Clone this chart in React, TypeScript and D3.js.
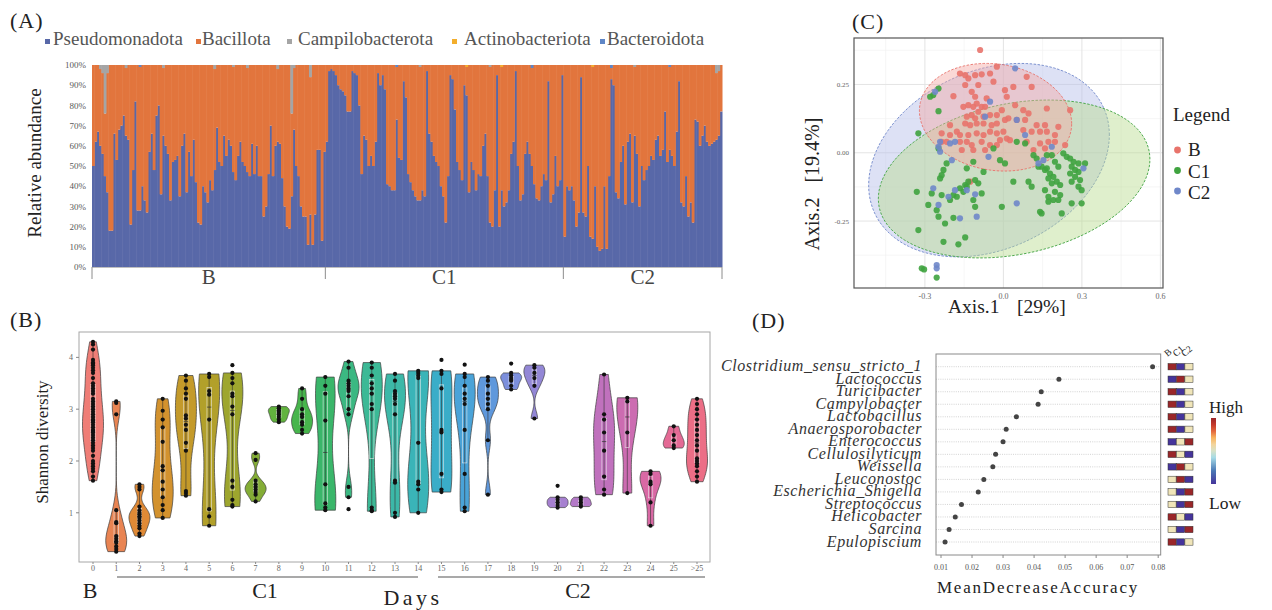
import React from 'react'
import * as d3 from 'd3'

const W = 1272
const H = 610
const serif = '"Liberation Serif", "Times New Roman", serif'

/* ---------- (A) relative abundance per sample ---------- */
const phyla = ['Pseudomonadota', 'Bacillota', 'Campilobacterota', 'Actinobacteriota', 'Bacteroidota']
const phylaColors = ['#5868a8', '#e2753d', '#a5a5a5', '#f3ae2c', '#5f86c6']
const groupsA = ['B', 'C1', 'C2']
// Pseudomonadota % per sample
const pseudoB = [
  50, 62, 67, 60, 56, 45, 37, 18, 18, 66, 53, 68, 70, 75, 65, 63, 21, 48, 82, 28,
  28, 40, 33, 27, 57, 66, 48, 75, 80, 36, 65, 60, 56, 33, 52, 53, 55, 35, 60, 66,
  37, 57, 45, 63, 42, 22, 21, 40, 37, 32, 43, 38, 48, 69, 52, 50, 65, 55, 63, 60,
  47, 43, 55, 62, 52, 50, 47, 45, 61, 46, 60, 45, 45, 25, 30, 46, 70, 45, 60, 62,
  61, 44, 30, 20, 19, 35, 68, 50, 45, 30, 25, 25, 11, 26, 11, 26, 58, 58, 13, 57,
]
const pseudoC1 = [
  62, 97, 98, 97, 95, 90, 88, 87, 85, 77, 77, 97, 96, 95, 80, 46, 65, 63, 50, 55,
  50, 62, 96, 90, 95, 88, 41, 40, 38, 38, 73, 54, 53, 92, 84, 46, 42, 38, 35, 33,
  33, 38, 35, 97, 66, 62, 55, 52, 50, 40, 35, 22, 45, 95, 93, 78, 52, 48, 43, 90,
  85, 37, 52, 48, 38, 46, 45, 60, 66, 45, 22, 20, 38, 95, 20, 38, 30, 32, 38, 56,
  62, 97, 50, 33, 36, 56, 62, 56, 50, 41, 34, 33, 40, 46, 43, 92, 32, 36, 55, 40,
  43, 95,
]
const pseudoC2 = [
  15, 40, 38, 40, 33, 20, 27, 94, 27, 25, 50, 15, 14, 40, 10, 8, 9, 40, 9, 45,
  93, 90, 37, 34, 52, 60, 31, 62, 66, 32, 65, 56, 30, 50, 43, 48, 50, 55, 53, 63,
  65, 55, 58, 77, 52, 58, 55, 50, 67, 92, 32, 30, 45, 25, 32, 22, 73, 72, 60, 65,
  70, 62, 60, 61, 62, 63, 65, 77,
]
// minor phyla: [group, sample index, %]
const campiSpikes = [
  ['B', 3, 2], ['B', 4, 4], ['B', 5, 24], ['B', 6, 4], ['B', 14, 1.5], ['B', 30, 1.5],
  ['B', 52, 2], ['B', 60, 1], ['B', 66, 1.5], ['B', 79, 2], ['B', 86, 1.5], ['B', 85, 24],
  ['B', 93, 6], ['C1', 40, 1], ['C1', 70, 1], ['C2', 30, 1], ['C2', 65, 4], ['C2', 66, 3],
]
const actinoSpikes = [['C1', 60, 1], ['C1', 75, 1], ['C2', 12, 1]]
const bacteroSpikes = [['B', 20, 1], ['C1', 30, 1], ['C1', 88, 1.5], ['C2', 20, 1.5], ['C2', 45, 1]]

/* ---------- (B) Shannon diversity by day ---------- */
const days = ['0', '1', '2', '3', '4', '5', '6', '7', '8', '9', '10', '11', '12', '13', '14',
  '15', '16', '17', '18', '19', '20', '21', '22', '23', '24', '25', '>25']
const shannon = [
  [4.3, 4.25, 4.15, 3.95, 3.9, 3.88, 3.85, 3.8, 3.75, 3.7, 3.6, 3.5, 3.45, 3.4, 3.35, 3.3, 3.2, 3.15, 3.1, 3.05, 3.0, 2.95, 2.9, 2.85, 2.8, 2.78, 2.75, 2.7, 2.65, 2.6, 2.58, 2.55, 2.5, 2.45, 2.4, 2.35, 2.3, 2.25, 2.2, 2.1, 2.0, 1.95, 1.9, 1.85, 1.8, 1.7, 1.62],
  [3.15, 3.12, 2.9, 1.05, 0.82, 0.8, 0.55, 0.5, 0.45, 0.42, 0.35, 0.3, 0.25],
  [1.55, 1.5, 1.45, 1.12, 1.05, 1.0, 0.97, 0.93, 0.9, 0.85, 0.8, 0.75, 0.7, 0.6, 0.55],
  [3.2, 2.97, 2.8, 2.65, 2.37, 1.9, 1.82, 1.6, 1.45, 1.3, 1.15, 1.05, 0.9],
  [3.65, 3.55, 3.4, 3.3, 3.2, 2.88, 2.82, 2.7, 2.6, 2.35, 2.2, 1.42, 1.38, 1.33],
  [3.68, 3.62, 3.35, 3.28, 2.8, 1.07, 0.93, 0.75],
  [3.7, 3.6, 3.5, 3.3, 3.25, 3.05, 2.9, 1.62, 1.5, 1.25, 1.15, 1.12],
  [2.15, 2.02, 1.62, 1.55, 1.5, 1.45, 1.4, 1.35, 1.22],
  [3.05, 3.02, 2.98, 2.95, 2.9, 2.85, 2.8, 2.75],
  [3.4, 3.2, 3.0, 2.9, 2.85, 2.75, 2.7, 2.6, 2.53],
  [3.62, 3.45, 3.3, 2.78, 1.55, 1.18, 1.1, 1.05],
  [3.92, 3.8, 3.55, 3.5, 3.45, 3.4, 3.35, 3.25, 3.0, 2.9, 1.5, 1.3],
  [3.9, 3.8, 3.65, 3.5, 3.4, 3.3, 3.1, 3.0, 1.1, 1.05, 1.03],
  [3.68, 3.55, 3.35, 3.3, 3.25, 3.2, 3.1, 2.9, 1.62, 1.58, 1.0, 0.92],
  [3.74, 3.7, 3.65, 3.6, 2.35, 1.6, 1.55, 1.45, 1.0],
  [3.74, 3.68, 3.4, 2.6, 2.55, 1.75, 1.45, 1.4],
  [3.68, 3.62, 3.45, 3.3, 3.2, 3.1, 2.6, 1.75, 1.1, 1.03],
  [3.62, 3.55, 3.45, 3.3, 3.2, 3.1, 3.0, 2.4, 1.35],
  [3.7, 3.65, 3.6, 3.55, 3.45, 3.38],
  [3.85, 3.8, 3.7, 3.6, 3.45, 2.82],
  [1.3, 1.25, 1.2, 1.15, 1.1],
  [1.3, 1.25, 1.2, 1.15, 1.12],
  [3.67, 2.9, 2.8, 2.55, 2.2, 1.7, 1.45, 1.35],
  [3.22, 3.15, 2.55, 1.38],
  [1.8, 1.75, 1.6, 1.55, 1.2, 0.75],
  [2.67, 2.5, 2.4, 2.3, 2.25],
  [3.2, 3.1, 3.0, 2.9, 2.8, 2.7, 2.6, 2.5, 2.4, 2.3, 2.2, 2.05, 2.0, 1.95, 1.9, 1.8, 1.7, 1.6],
]
// points drawn outside the violins: [day, value]
const shannonOutliers = [['6', 3.85], ['11', 1.07], ['15', 3.95], ['16', 3.86], ['18', 3.88], ['20', 1.52]]
const yTicksB = [1, 2, 3, 4]
// hue palette of the violins, one per day
const violinColors = [
  '#ef7d76', '#e98452', '#e08a36', '#d3922e', '#c49a2a', '#b2a02a', '#9ea62e', '#84ad36', '#62b33e',
  '#47b54c', '#3ab66a', '#3bb882', '#3cb996', '#3cb8a8', '#3ab4b8', '#3aadc8', '#4aa3d8', '#5f98dc',
  '#7c8fdc', '#9387d6', '#a680d0', '#b479c8', '#c071bd', '#cc6cb1', '#d968a4', '#e46a95', '#ec6e86',
]

/* ---------- (C) PCoA ---------- */
const groupsC = ['B', 'C1', 'C2']
const groupColors = ['#e8736b', '#3fa33f', '#6f87c9']
const ellipseFill = ['#f4a9a3', '#b9dc8f', '#b4bde8']
const pcoaB = [
  [-0.089, 0.376], [-0.166, 0.29], [-0.146, 0.284], [-0.134, 0.272], [-0.108, 0.284], [-0.083, 0.287], [-0.051, 0.29], [-0.025, 0.315], [-0.146, 0.248], [-0.096, 0.248],
  [-0.121, 0.223], [-0.108, 0.205], [-0.064, 0.199], [-0.038, 0.26], [0.006, 0.229], [0.013, 0.205], [-0.191, 0.207], [-0.153, 0.168], [-0.134, 0.174], [-0.115, 0.168],
  [-0.102, 0.18], [-0.083, 0.168], [-0.07, 0.168], [-0.096, 0.15], [-0.121, 0.138], [-0.14, 0.132], [-0.108, 0.126], [-0.076, 0.132], [-0.051, 0.138], [-0.025, 0.138],
  [-0.006, 0.156], [0.006, 0.12], [-0.146, 0.107], [-0.127, 0.101], [-0.102, 0.107], [-0.076, 0.107], [-0.045, 0.101], [-0.025, 0.107], [-0.204, 0.101], [-0.236, 0.071],
  [-0.204, 0.065], [-0.178, 0.077], [-0.166, 0.065], [-0.134, 0.065], [-0.102, 0.071], [-0.076, 0.065], [-0.051, 0.077], [-0.025, 0.071], [0, 0.077], [0.013, 0.052],
  [-0.013, 0.046], [-0.236, 0.04], [-0.217, 0.04], [-0.166, 0.04], [-0.14, 0.04], [-0.121, 0.028], [-0.083, 0.04], [-0.051, 0.028], [-0.025, 0.028], [-0.159, 0.01],
  [-0.115, 0.01], [-0.07, 0.01], [-0.127, -0.106], [0.089, 0.278], [0.108, 0.241], [0.038, 0.241], [0.045, 0.174], [0.076, 0.156], [0.166, 0.162], [0.255, 0.156],
  [0.019, 0.126], [0.051, 0.12], [0.083, 0.12], [0.096, 0.144], [0.127, 0.101], [0.159, 0.101], [0.21, 0.095], [0.076, 0.083], [0.108, 0.077], [0.14, 0.077],
  [0.166, 0.077], [0.197, 0.065], [0.025, 0.046], [0.089, 0.04], [0.14, 0.034], [0.172, 0.04], [0.197, 0.04], [0.236, 0.028], [0.115, 0.01], [0.159, 0.016],
]
const pcoaC1 = [
  [-0.28, 0.205], [-0.268, 0.211], [-0.248, 0.235], [-0.248, 0.152], [-0.325, 0.071], [-0.248, 0.016], [-0.038, 0.016], [-0.115, -0.033], [-0.013, -0.027], [0.006, -0.039],
  [-0.217, -0.039], [-0.229, -0.063], [-0.242, -0.094], [-0.236, -0.082], [-0.14, -0.057], [-0.076, -0.07], [-0.108, -0.1], [-0.146, -0.118], [-0.166, -0.13], [-0.153, -0.143],
  [-0.14, -0.124], [-0.096, -0.112], [-0.083, -0.149], [-0.115, -0.173], [-0.108, -0.198], [-0.191, -0.155], [-0.204, -0.173], [-0.236, -0.155], [-0.274, -0.149], [-0.287, -0.191],
  [-0.255, -0.21], [-0.248, -0.234], [-0.191, -0.238], [-0.223, -0.259], [-0.331, -0.143], [-0.325, -0.283], [-0.229, -0.326], [-0.172, -0.335], [-0.146, -0.31], [-0.006, -0.198],
  [-0.312, -0.423], [-0.303, -0.427], [-0.255, -0.457], [-0.178, -0.161], [-0.134, -0.106],
  [0.051, 0.04], [0.083, 0.034], [0.038, -0.106], [0.096, -0.106], [0.108, -0.124], [0.115, -0.009], [0.127, -0.021], [0.146, -0.051], [0.159, -0.063], [0.166, -0.009],
  [0.185, -0.009], [0.197, -0.033], [0.21, -0.051], [0.229, -0.002], [0.242, -0.015], [0.255, -0.021], [0.268, -0.033], [0.287, -0.039], [0.312, -0.039], [0.261, -0.051],
  [0.274, -0.063], [0.287, -0.07], [0.255, -0.076], [0.274, -0.088], [0.293, -0.1], [0.261, -0.106], [0.287, -0.124], [0.299, -0.137], [0.166, -0.057], [0.178, -0.076],
  [0.191, -0.088], [0.172, -0.094], [0.204, -0.106], [0.185, -0.112], [0.217, -0.118], [0.159, -0.137], [0.197, -0.143], [0.217, -0.155], [0.172, -0.161], [0.191, -0.173],
  [0.172, -0.179], [0.21, -0.173], [0.14, -0.216], [0.146, -0.222], [0.223, -0.222], [0.261, -0.185], [0.299, -0.185], [0.134, -0.051],
]
const pcoaC2 = [
  [-0.261, 0.223], [-0.051, 0.187], [-0.07, 0.132], [-0.242, 0.04], [-0.248, 0.022], [-0.242, 0.004], [-0.204, 0.034], [-0.185, 0.04], [-0.057, -0.015], [-0.197, -0.027],
  [-0.268, -0.13], [-0.21, -0.161], [-0.185, -0.137], [-0.14, -0.137], [-0.108, -0.152], [-0.248, -0.191], [-0.166, -0.24], [-0.102, -0.234], [-0.255, -0.411], [-0.255, -0.423],
  [0.045, 0.309], [0.051, 0.12], [0.083, 0.065], [0.185, 0.022], [0.134, -0.039], [0.306, -0.057], [0.051, -0.185], [0.153, -0.027],
]
// confidence ellipses: [cx, cy, x-extent, y-extent, correlation]
const ellipses = [
  [-0.03, 0.13, 0.291, 0.197, -0.12],
  [0.041, -0.096, 0.519, 0.289, 0.25],
  [-0.055, -0.027, 0.46, 0.354, 0.26],
]
const xTicksC = [-0.3, 0, 0.3, 0.6]
const yTicksC = [-0.25, 0, 0.25]

/* ---------- (D) random forest importance ---------- */
const genera = ['Clostridium_sensu_stricto_1', 'Lactococcus', 'Turicibacter', 'Campylobacter', 'Lactobacillus',
  'Anaerosporobacter', 'Enterococcus', 'Cellulosilyticum', 'Weissella', 'Leuconostoc', 'Escherichia_Shigella',
  'Streptococcus', 'Helicobacter', 'Sarcina', 'Epulopiscium']
const mda = [0.0782, 0.048, 0.0423, 0.0413, 0.0343, 0.031, 0.030, 0.0276, 0.0267, 0.0238, 0.022, 0.0166, 0.0146, 0.0126, 0.0113]
const heatB = [1, 0, 1, 1, 1, 1, 0, 1, 0, 0.55, 0.55, 0.55, 1, 0.55, 1]
const heatC1 = [0, 1, 0, 0, 0, 0, 0.55, 0.55, 1, 1, 0, 0, 0.55, 0, 0]
const heatC2 = [0.55, 0.55, 0.55, 0.55, 0.55, 0.55, 1, 0, 0.55, 0, 1, 1, 0, 1, 0.55]
const xTicksD = [0.01, 0.02, 0.03, 0.04, 0.05, 0.06, 0.07, 0.08]

const heatColor = d3
  .scaleLinear<string>()
  .domain([0, 0.2, 0.4, 0.55, 0.7, 0.85, 1])
  .range(['#45349b', '#4a78b5', '#a6dbe6', '#f0e5b9', '#f8b35e', '#d9432d', '#9a2629'])

function PanelA() {
  const lists = [pseudoB, pseudoC1, pseudoC2]
  const samples: any[] = []
  lists.forEach((arr, g) => {
    const grp = groupsA[g]
    arr.forEach((p, i) => {
      const pick = (list: any[]) => {
        const hit = list.find((d) => d[0] === grp && d[1] === i)
        return hit ? hit[2] : 0
      }
      const campi = pick(campiSpikes)
      const actino = pick(actinoSpikes)
      const bactero = pick(bacteroSpikes)
      samples.push({
        id: `${grp}-${i}`,
        group: grp,
        Pseudomonadota: p,
        Bacillota: 100 - p - campi - actino - bactero,
        Campilobacterota: campi,
        Actinobacteriota: actino,
        Bacteroidota: bactero,
      })
    })
  })
  const x = d3.scaleBand().domain(samples.map((d) => d.id)).range([92, 722])
  const y = d3.scaleLinear().domain([0, 100]).range([267, 65])
  const series = d3.stack().keys(phyla)(samples)
  const bounds = groupsA.map((g) => x(samples.find((d) => d.group === g).id) as number)
  bounds.push(x.range()[1])
  const legendMarkX = [45, 196, 287, 452, 600]
  const legendTextX = [53, 202, 298, 464, 607]
  return (
    <g fontFamily={serif}>
      <text x={10} y={28} fontSize={22} letterSpacing={1} fill="#222">(A)</text>
      {phyla.map((p, i) => (
        <g key={p}>
          <rect x={legendMarkX[i]} y={39} width={5} height={5} fill={phylaColors[i]} />
          <text x={legendTextX[i]} y={45} fontSize={19} fill="#555">{p}</text>
        </g>
      ))}
      {series.map((s, k) => (
        <g key={s.key} fill={phylaColors[k]}>
          {s.map((d: any, i) =>
            d[1] - d[0] > 0 ? (
              <rect key={i} x={x(samples[i].id)} y={y(d[1])} width={x.bandwidth() + 0.5} height={y(d[0]) - y(d[1])} />
            ) : null,
          )}
        </g>
      ))}
      {d3.range(0, 101, 10).map((t) => (
        <text key={t} x={86} y={y(t) + 3.2} fontSize={9} textAnchor="end" fill="#595959">{`${t}%`}</text>
      ))}
      <text transform="translate(41,163) rotate(-90)" fontSize={19} textAnchor="middle" fill="#222">Relative abundance</text>
      <line x1={92} x2={722} y1={267.5} y2={267.5} stroke="#bfbfbf" />
      {bounds.map((b, i) => (
        <line key={i} x1={b} x2={b} y1={267} y2={279} stroke="#8c8c8c" />
      ))}
      {groupsA.map((g, i) => (
        <text key={g} x={(bounds[i] + bounds[i + 1]) / 2} y={284} fontSize={21} textAnchor="middle" fill="#444">{g}</text>
      ))}
    </g>
  )
}

const gauss = (u: number) => Math.exp(-0.5 * u * u) / Math.sqrt(2 * Math.PI)
function density(vals: number[]) {
  const s = vals.slice().sort(d3.ascending)
  const sd = d3.deviation(s) || 0
  const iqr = ((d3.quantile(s, 0.75) as number) - (d3.quantile(s, 0.25) as number)) / 1.34
  let bw = 0.9 * Math.min(sd, iqr > 0 ? iqr : sd) * Math.pow(s.length, -0.2)
  if (!(bw > 0)) bw = 0.05
  const lo = s[0]
  const hi = s[s.length - 1]
  return d3.range(0, 41).map((k) => {
    const v = lo + ((hi - lo) * k) / 40
    return { v, d: (d3.mean(s, (t) => gauss((v - t) / bw)) as number) / bw }
  })
}

function PanelB() {
  const x = d3.scalePoint().domain(days).range([93, 697])
  const y = d3.scaleLinear().domain([0.05, 4.49]).range([562, 332])
  const halfW = 10.5
  return (
    <g fontFamily={serif}>
      <text x={10} y={327} fontSize={22} letterSpacing={1} fill="#222">(B)</text>
      <rect x={79} y={332} width={631} height={230} fill="none" stroke="#a6a6a6" />
      {days.map((day, i) => {
        const vals = shannon[i]
        const cx = x(day) as number
        const dens = density(vals)
        const w = d3.scaleLinear().domain([0, d3.max(dens, (d) => d.d) as number]).range([0, halfW])
        const area = d3
          .area<any>()
          .y((d) => y(d.v))
          .x0((d) => cx - w(d.d))
          .x1((d) => cx + w(d.d))
          .curve(d3.curveCatmullRom)
        const s = vals.slice().sort(d3.ascending)
        const q1 = d3.quantile(s, 0.25) as number
        const med = d3.quantile(s, 0.5) as number
        const q3 = d3.quantile(s, 0.75) as number
        const lo = d3.min(s.filter((v) => v >= q1 - 1.5 * (q3 - q1))) as number
        const hi = d3.max(s.filter((v) => v <= q3 + 1.5 * (q3 - q1))) as number
        return (
          <g key={day}>
            <path d={area(dens) as string} fill={violinColors[i]} stroke="#3d3d3d" strokeWidth={0.7} />
            <line x1={cx} x2={cx} y1={y(lo)} y2={y(hi)} stroke="#333" strokeWidth={0.6} />
            <rect x={cx - 2.2} y={y(q3)} width={4.4} height={Math.max(0.5, y(q1) - y(q3))} fill="none" stroke="#eee" strokeWidth={0.7} opacity={0.8} />
            <line x1={cx - 2.2} x2={cx + 2.2} y1={y(med)} y2={y(med)} stroke="#333" strokeWidth={0.7} />
            {vals.map((v, k) => (
              <circle key={k} cx={cx} cy={y(v)} r={2.1} fill="#111" />
            ))}
          </g>
        )
      })}
      {shannonOutliers.map((o: any, k) => (
        <circle key={k} cx={x(o[0]) as number} cy={y(o[1])} r={2.1} fill="#111" />
      ))}
      {yTicksB.map((t) => (
        <g key={t}>
          <line x1={76} x2={79} y1={y(t)} y2={y(t)} stroke="#888" />
          <text x={73} y={y(t) + 3} fontSize={8} textAnchor="end" fill="#666">{t}</text>
        </g>
      ))}
      {days.map((d) => (
        <g key={d}>
          <line x1={x(d)} x2={x(d)} y1={562} y2={564} stroke="#888" />
          <text x={x(d)} y={571} fontSize={8} textAnchor="middle" fill="#666">{d}</text>
        </g>
      ))}
      <text transform="translate(48,442) rotate(-90)" fontSize={17} textAnchor="middle" fill="#222">Shannon diversity</text>
      <line x1={117} x2={418} y1={577} y2={577} stroke="#555" strokeWidth={1.2} />
      <line x1={438} x2={705} y1={577} y2={577} stroke="#555" strokeWidth={1.2} />
      <text x={90} y={598} fontSize={22} textAnchor="middle" fill="#222">B</text>
      <text x={265} y={598} fontSize={22} textAnchor="middle" fill="#222">C1</text>
      <text x={413} y={605} fontSize={22} textAnchor="middle" letterSpacing={3.5} fill="#222">Days</text>
      <text x={578} y={598} fontSize={22} textAnchor="middle" fill="#222">C2</text>
    </g>
  )
}

function PanelC() {
  const x = d3.scaleLinear().domain([-0.571, 0.61]).range([854, 1163])
  const y = d3.scaleLinear().domain([-0.495, 0.42]).range([288, 38])
  const pts = [pcoaB, pcoaC1, pcoaC2]
  const minorX = [-0.45, -0.15, 0.15, 0.45]
  const minorY = [-0.375, -0.125, 0.125, 0.375]
  const line = d3.line<number[]>().x((d) => x(d[0])).y((d) => y(d[1])).curve(d3.curveLinearClosed)
  const ellipsePath = (e: number[]) => {
    const [cx, cy, sx, sy, r] = e
    const pts2 = d3.range(0, 120).map((k) => {
      const t = (2 * Math.PI * k) / 120
      return [cx + sx * Math.cos(t), cy + sy * (r * Math.cos(t) + Math.sqrt(1 - r * r) * Math.sin(t))]
    })
    return line(pts2) as string
  }
  const drawOrder = [2, 1, 0]
  return (
    <g fontFamily={serif}>
      <text x={852} y={29} fontSize={22} letterSpacing={1} fill="#222">(C)</text>
      <rect x={854} y={38} width={309} height={250} fill="#fff" />
      {minorX.map((t) => (
        <line key={t} x1={x(t)} x2={x(t)} y1={38} y2={288} stroke="#f0f0f0" strokeWidth={0.6} />
      ))}
      {minorY.map((t) => (
        <line key={t} x1={854} x2={1163} y1={y(t)} y2={y(t)} stroke="#f0f0f0" strokeWidth={0.6} />
      ))}
      {xTicksC.map((t) => (
        <line key={t} x1={x(t)} x2={x(t)} y1={38} y2={288} stroke="#e4e4e4" strokeWidth={1} />
      ))}
      {yTicksC.map((t) => (
        <line key={t} x1={854} x2={1163} y1={y(t)} y2={y(t)} stroke="#e4e4e4" strokeWidth={1} />
      ))}
      {drawOrder.map((g) => (
        <path key={g} d={ellipsePath(ellipses[g])} fill={ellipseFill[g]} fillOpacity={0.45} stroke={groupColors[g]} strokeWidth={0.9} strokeDasharray="2.5,1.5" />
      ))}
      {[0, 1, 2].map((g) => (
        <g key={g} fill={groupColors[g]} fillOpacity={0.9}>
          {pts[g].map((p, k) => (
            <circle key={k} cx={x(p[0])} cy={y(p[1])} r={3.1} />
          ))}
        </g>
      ))}
      <rect x={854} y={38} width={309} height={250} fill="none" stroke="#555" strokeWidth={1.2} />
      {yTicksC.map((t) => (
        <text key={t} x={849} y={y(t) + 2.5} fontSize={7} textAnchor="end" fill="#666">{t.toFixed(2)}</text>
      ))}
      {xTicksC.map((t) => (
        <text key={t} x={x(t)} y={299} fontSize={8} textAnchor="middle" fill="#666">{t.toFixed(1)}</text>
      ))}
      <text x={948} y={313} fontSize={19.5} fill="#222">Axis.1</text>
      <text x={1017} y={313} fontSize={19.5} fill="#222">[29%]</text>
      <text transform="translate(819,184) rotate(-90)" fontSize={20} textAnchor="middle" fill="#222" style={{ whiteSpace: 'pre' }}>{'Axis.2   [19.4%]'}</text>
      <text x={1173} y={121} fontSize={19} fill="#222">Legend</text>
      {groupsC.map((g, i) => (
        <g key={g}>
          <circle cx={1177.5} cy={150 + i * 20.5} r={3.4} fill={groupColors[i]} />
          <text x={1188} y={156 + i * 21.5} fontSize={19} fill="#222">{g}</text>
        </g>
      ))}
    </g>
  )
}

function PanelD() {
  const x = d3.scaleLinear().domain([0.01, 0.08]).range([941, 1158.2])
  const y = d3.scalePoint().domain(genera).range([366.7, 542])
  const cols = d3.scaleBand().domain(groupsC).range([1168, 1193]).paddingInner(0.04)
  const heat = [heatB, heatC1, heatC2]
  const legY = d3.scaleLinear().domain([1, 0]).range([418, 484])
  return (
    <g fontFamily={serif}>
      <defs>
        <linearGradient id="heatGrad" x1="0" y1="0" x2="0" y2="1">
          {d3.range(0, 1.001, 0.1).map((t) => (
            <stop key={t} offset={`${t * 100}%`} stopColor={heatColor(1 - t)} />
          ))}
        </linearGradient>
      </defs>
      <text x={752} y={328} fontSize={22} letterSpacing={1} fill="#222">(D)</text>
      {genera.map((g) => (
        <line key={g} x1={936} x2={1160.7} y1={y(g)} y2={y(g)} stroke="#b5b5b5" strokeWidth={0.6} strokeDasharray="1,1.2" />
      ))}
      <rect x={936} y={354} width={224.7} height={201} fill="none" stroke="#8a8a8a" strokeWidth={1} />
      {genera.map((g, i) => (
        <circle key={g} cx={x(mda[i])} cy={y(g)} r={2.5} fill="#444" />
      ))}
      {genera.map((g) => (
        <text key={g} x={922} y={(y(g) as number) + 4.5} fontSize={16} fontStyle="italic" textAnchor="end" letterSpacing={0.6} fill="#333">{g}</text>
      ))}
      {xTicksD.map((t) => (
        <g key={t}>
          <line x1={x(t)} x2={x(t)} y1={555} y2={558} stroke="#888" />
          <text x={x(t)} y={570} fontSize={8} textAnchor="middle" fill="#555">{t.toFixed(2)}</text>
        </g>
      ))}
      <text x={1038} y={593} fontSize={17} textAnchor="middle" letterSpacing={1.8} fill="#222">MeanDecreaseAccuracy</text>
      {groupsC.map((c, j) => (
        <g key={c}>
          {genera.map((g, i) => (
            <rect key={g} x={cols(c)} y={(y(g) as number) - 3.2} width={cols.bandwidth()} height={6.4} fill={heatColor(heat[j][i])} stroke="#333" strokeWidth={0.5} />
          ))}
          <text transform={`translate(${(cols(c) as number) - 0.5},${357}) rotate(-40)`} fontSize={9.5} fill="#222">{c}</text>
        </g>
      ))}
      <rect x={1211} y={legY(1)} width={5} height={legY(0) - legY(1)} fill="url(#heatGrad)" />
      <text x={1209} y={413} fontSize={17} fill="#222">High</text>
      <text x={1209} y={509} fontSize={17.5} fill="#222">Low</text>
    </g>
  )
}

export default function App() {
  return (
    <svg width={W} height={H} style={{ position: 'absolute', left: 0, top: 0, background: '#fff' }}>
      <rect width={W} height={H} fill="#fff" />
      <PanelA />
      <PanelB />
      <PanelC />
      <PanelD />
    </svg>
  )
}
